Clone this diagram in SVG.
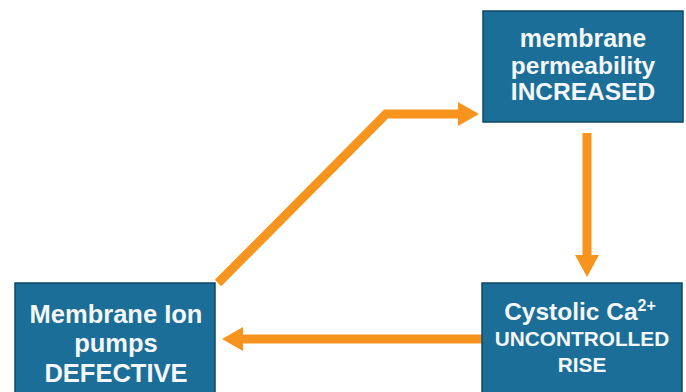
<svg xmlns="http://www.w3.org/2000/svg" width="686" height="392" viewBox="0 0 686 392">
<style>
.box{fill:#1b6e97;stroke:#0f4764;stroke-width:1.5}
.t{font-family:"Liberation Sans",Arial,sans-serif;font-weight:bold;fill:#f4f6f8;text-anchor:middle}
.line{fill:none;stroke:#f7941d;stroke-width:9;stroke-linejoin:miter}
.head{fill:#f7941d}
</style>
<rect width="686" height="392" fill="#ffffff"/>
<g id="connectors">
<polyline class="line" points="218,283 386,114 461,114"/>
<polygon class="head" points="458,102 479,114 458,126"/>
<line class="line" x1="587" y1="133" x2="587" y2="258"/>
<polygon class="head" points="575,255 587,277 599,255"/>
<line class="line" x1="482" y1="339" x2="240" y2="339"/>
<polygon class="head" points="243,327 222,339 243,351"/>
</g>
<g id="node-permeability">
<rect class="box" x="483" y="11" width="200" height="111"/>
<text class="t" font-size="25" x="583" y="47">membrane</text>
<text class="t" font-size="24.5" x="583" y="74">permeability</text>
<text class="t" font-size="24.5" x="583" y="100">INCREASED</text>
</g>
<g id="node-pumps">
<rect class="box" x="15" y="283" width="200" height="115"/>
<text class="t" font-size="25.5" x="116" y="323">Membrane Ion</text>
<text class="t" font-size="25.5" x="116" y="352">pumps</text>
<text class="t" font-size="25.5" x="116" y="382">DEFECTIVE</text>
</g>
<g id="node-calcium">
<rect class="box" x="482" y="283" width="200" height="115"/>
<text class="t" font-size="24.5" x="580" y="320">Cystolic Ca<tspan font-size="16" dy="-9">2+</tspan></text>
<text class="t" font-size="20.8" x="582" y="346">UNCONTROLLED</text>
<text class="t" font-size="20.8" x="582" y="372">RISE</text>
</g>
</svg>
